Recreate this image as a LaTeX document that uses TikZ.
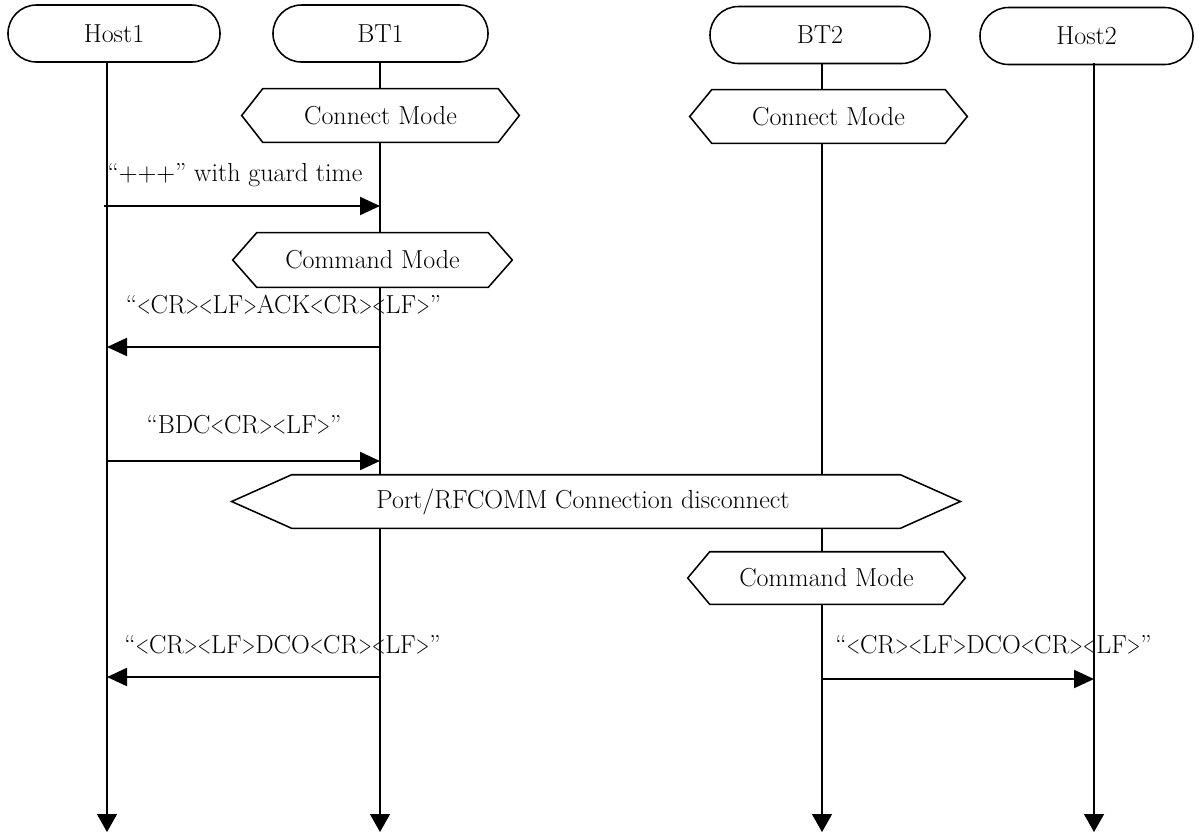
\documentclass[tikz,border=0pt]{standalone}
\usetikzlibrary{arrows.meta,shapes.misc,calc,backgrounds}

% narrow angle brackets as used in the command strings
\newcommand\lab{\scalebox{0.68}[1]{<}}
\newcommand\rab{\scalebox{0.68}[1]{>}}
% hexagonal frame around a named node, pointed ends sticking out by #2
\newcommand\hexframe[2]{%
  \draw[hexline] (#1.north west) -- (#1.north east) -- ($(#1.east)+(#2,0)$)
    -- (#1.south east) -- (#1.south west) -- ($(#1.west)-(#2,0)$) -- cycle;}

\begin{document}
\begin{tikzpicture}[x=0.025cm,y=-0.025cm,
  lbl/.style={font=\fontsize{18.5}{22}\selectfont, inner sep=0pt},
  actor/.style={lbl, draw, line width=1.1pt, rounded rectangle, minimum height=1.425cm},
  hexslot/.style={lbl, rectangle},
  hexline/.style={draw, fill=white, line width=1.1pt, line join=miter},
  life/.style={line width=1pt, -{Triangle[length=0.45cm,width=0.5cm]}},
  msg/.style={line width=1.4pt, -{Triangle[length=0.5cm,width=0.45cm]}}]

\useasboundingbox (0,0) rectangle (1200,838);

% participants
\node[actor, minimum width=5.3cm]   (host1) at (114,33.5) {Host1};
\node[actor, minimum width=5.375cm] (bt1)   at (380.5,33.5) {BT1};
\node[actor, minimum width=5.5cm]   (bt2)   at (820,35) {BT2};
\node[actor, minimum width=5.325cm] (host2) at (1086.5,36) {Host2};

% lifeline ends
\coordinate (l1a) at (107,62);  \coordinate (l1b) at (107,832);
\coordinate (l2a) at (380,62);  \coordinate (l2b) at (380,832);
\coordinate (l3a) at (822,63);  \coordinate (l3b) at (822,832);
\coordinate (l4a) at (1094,63); \coordinate (l4b) at (1094,832);

% state boxes
\node[hexslot, minimum width=5.875cm, minimum height=1.325cm] (cmA)  at (380.5,115.5) {Connect Mode};
\node[hexslot, minimum width=5.825cm, minimum height=1.325cm] (cmB)  at (828.5,116.5) {Connect Mode};
\node[hexslot, minimum width=5.775cm, minimum height=1.35cm]  (cdA)  at (372.5,260) {Command Mode};
\node[hexslot, minimum width=15.2cm,  minimum height=1.325cm] (port) at (596,501.5) {};
\node[lbl] (porttxt) at (583,501.5) {Port/RFCOMM Connection disconnect};
\node[hexslot, minimum width=5.825cm, minimum height=1.3cm]   (cdB)  at (826.5,578) {Command Mode};

\begin{scope}[on background layer]
  \draw[life] (l1a) -- (l1b);
  \draw[life] (l2a) -- (l2b);
  \draw[life] (l3a) -- (l3b);
  \draw[life] (l4a) -- (l4b);
  \hexframe{cmA}{21}
  \hexframe{cmB}{22}
  \hexframe{cdA}{24}
  \hexframe{port}{60}
  \hexframe{cdB}{22}
\end{scope}

% messages
\coordinate (m1a) at (104,206); \coordinate (m1b) at (380,206);
\coordinate (m2a) at (380,347); \coordinate (m2b) at (107,347);
\coordinate (m3a) at (107,461); \coordinate (m3b) at (380,461);
\coordinate (m4a) at (380,677); \coordinate (m4b) at (107,677);
\coordinate (m5a) at (822,679); \coordinate (m5b) at (1094,679);

\draw[msg] (m1a) -- (m1b);
\draw[msg] (m2a) -- (m2b);
\draw[msg] (m3a) -- (m3b);
\draw[msg] (m4a) -- (m4b);
\draw[msg] (m5a) -- (m5b);

\node[lbl] (t1) at (235,175)   {``+++'' with guard time};
\node[lbl] (t2) at (283.5,305) {``\lab CR\rab\lab LF\rab ACK\lab CR\rab\lab LF\rab''};
\node[lbl] (t3) at (244,425)   {``BDC\lab CR\rab\lab LF\rab''};
\node[lbl] (t4) at (282.5,645) {``\lab CR\rab\lab LF\rab DCO\lab CR\rab\lab LF\rab''};
\node[lbl] (t5) at (993.5,645) {``\lab CR\rab\lab LF\rab DCO\lab CR\rab\lab LF\rab''};

\end{tikzpicture}
\end{document}
